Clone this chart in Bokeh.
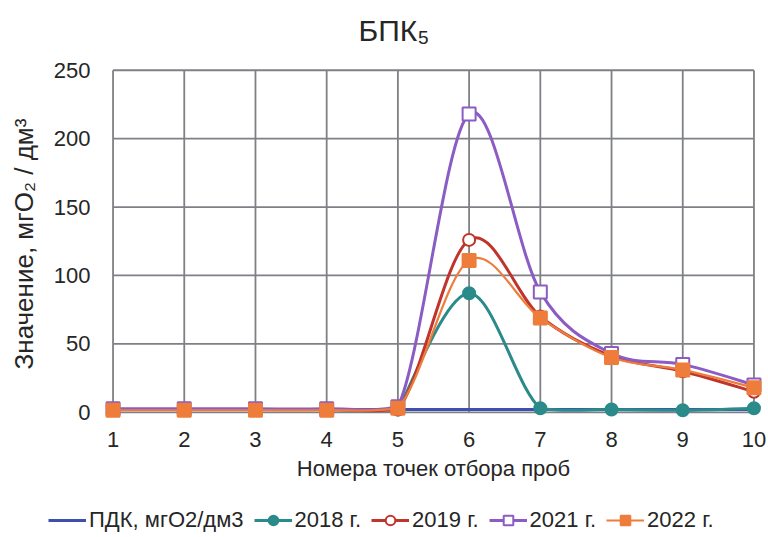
import numpy as np
from bokeh.plotting import figure
from bokeh.layouts import column
from bokeh.models import Range1d, FixedTicker, Legend, LegendItem, ColumnDataSource, Label
from bokeh.embed import file_html
from bokeh.resources import INLINE

# ---- data ----
points = [1, 2, 3, 4, 5, 6, 7, 8, 9, 10]
pdk = [2, 2, 2, 2, 2, 2, 2, 2, 2, 2]
y2018 = [None, None, None, None, 2, 87, 3, 2, 1.5, 3]
y2019 = [2, 2, 2, 2, 2, 126, 70, 41, 30, 15]
y2021 = [2.5, 2.5, 2.5, 2.5, 4, 218, 88, 43, 35, 20]
y2022 = [1.5, 1.5, 1.5, 1.5, 3, 111, 69, 40, 31, 18]
y_ticks = [0, 50, 100, 150, 200, 250]

title_text = "БПК₅"
y_label = "Значение, мгО₂ / дм³"
x_label = "Номера точек отбора проб"
names = ["ПДК, мгО2/дм3", "2018 г.", "2019 г.", "2021 г.", "2022 г."]

# ---- styles ----
FONT = "Liberation Sans"
TXT = "#262626"
GRID = "#7e8085"
C_PDK = "#3f4fb0"
C18 = "#2b8a8a"
C19 = "#c0352b"
C21 = "#8b5cc4"
C22 = "#ee7d3b"


def smooth_segments(xs, ys, floor=0.0):
    """Bezier control points (Catmull-Rom style, like a spreadsheet 'smoothed line')."""
    xs = np.array(xs, float)
    ys = np.array([np.nan if v is None else v for v in ys], float)
    n = len(xs)
    d = dict(x0=[], y0=[], x1=[], y1=[], cx0=[], cy0=[], cx1=[], cy1=[])
    for i in range(n - 1):
        if np.isnan(ys[i]) or np.isnan(ys[i + 1]):
            continue
        ip = i - 1 if i - 1 >= 0 and not np.isnan(ys[i - 1]) else i
        nn = i + 2 if i + 2 < n and not np.isnan(ys[i + 2]) else i + 1
        d["x0"].append(xs[i]); d["y0"].append(ys[i])
        d["x1"].append(xs[i + 1]); d["y1"].append(ys[i + 1])
        d["cx0"].append(xs[i] + (xs[i + 1] - xs[ip]) / 6)
        d["cy0"].append(max(ys[i] + (ys[i + 1] - ys[ip]) / 6, floor))
        d["cx1"].append(xs[i + 1] - (xs[nn] - xs[i]) / 6)
        d["cy1"].append(max(ys[i + 1] - (ys[nn] - ys[i]) / 6, floor))
    return ColumnDataSource(d)


def strip(height):
    f = figure(
        width=768, height=height, x_range=Range1d(0, 1), y_range=Range1d(0, 1),
        min_border_left=0, min_border_right=0, min_border_top=0, min_border_bottom=0,
        x_axis_location=None, y_axis_location=None, title=None,
        output_backend="svg", toolbar_location=None,
        background_fill_color="white", border_fill_color="white",
    )
    f.frame_align = False
    f.grid.visible = False
    f.outline_line_color = None
    return f


# ---- title strip ----
tf = strip(52)
tf.add_layout(Label(x=358, y=22, x_units="screen", y_units="screen", text=title_text,
                    text_font=FONT, text_font_size="30px", text_color=TXT,
                    text_align="left", text_baseline="alphabetic"))

# ---- main chart ----
p = figure(
    width=768, height=445, title=None,
    min_border_left=104, min_border_right=6, min_border_top=15, min_border_bottom=77,
    x_range=Range1d(0.88, 10.12), y_range=Range1d(-6, 252),
    output_backend="svg", toolbar_location=None,
    background_fill_color="white", border_fill_color="white",
)
p.frame_align = False
p.outline_line_color = None
p.xgrid.visible = False
p.ygrid.visible = False

for ax in (p.xaxis, p.yaxis):
    ax.axis_line_color = None
    ax.major_tick_line_color = None
    ax.minor_tick_line_color = None
    ax.major_label_text_font = FONT
    ax.major_label_text_font_size = "22px"
    ax.major_label_text_color = TXT
    ax.axis_label_text_font = FONT
    ax.axis_label_text_font_size = "22px"
    ax.axis_label_text_font_style = "normal"
    ax.axis_label_text_color = TXT
p.yaxis.axis_label_text_font_size = "26px"
p.xaxis.ticker = FixedTicker(ticks=points)
p.yaxis.ticker = FixedTicker(ticks=y_ticks)
p.xaxis.axis_label = x_label
p.yaxis.axis_label = y_label
p.xaxis.major_label_standoff = 5
p.xaxis.axis_label_standoff = 6
p.yaxis.major_label_standoff = 8
p.yaxis.axis_label_standoff = 12

# grid drawn from tick values (only inside the data area)
p.segment(x0=points, y0=[y_ticks[0]] * len(points), x1=points, y1=[y_ticks[-1]] * len(points),
          line_color=GRID, line_width=1.8)
p.segment(x0=[points[0]] * len(y_ticks), y0=y_ticks, x1=[points[-1]] * len(y_ticks), y1=y_ticks,
          line_color=GRID, line_width=1.8)

# series
p.line(points, pdk, line_color=C_PDK, line_width=3)

specs = [
    (y2018, C18, "circle", 12, C18, 3),
    (y2019, C19, "circle", 12, "white", 3),
    (y2021, C21, "square", 13, "white", 3),
    (y2022, C22, "square", 13, C22, 2.2),
]
for ys, col, mk, sz, fill, lw in specs:
    src = smooth_segments(points, ys)
    p.bezier(x0="x0", y0="y0", x1="x1", y1="y1", cx0="cx0", cy0="cy0", cx1="cx1", cy1="cy1",
             source=src, line_color=col, line_width=lw, line_cap="round")
    xs_m = [x for x, v in zip(points, ys) if v is not None]
    ys_m = [v for v in ys if v is not None]
    p.scatter(xs_m, ys_m, marker=mk, size=sz, fill_color=fill, line_color=col, line_width=2)

# ---- legend strip (keys only, renderers hold no drawable data) ----
lg = strip(40)
nan = [float("nan")]
items = [LegendItem(label=names[0], renderers=[lg.line(x=nan, y=nan, line_color=C_PDK, line_width=3)])]
for (ys, col, mk, sz, fill, lw), nm in zip(specs, names[1:]):
    rl = lg.line(x=nan, y=nan, line_color=col, line_width=lw)
    rm = lg.scatter(x=nan, y=nan, marker=mk, fill_color=fill, line_color=col, line_width=2)
    items.append(LegendItem(label=nm, renderers=[rl, rm]))

legend = Legend(
    items=items, orientation="horizontal", location=(48, 4),
    glyph_width=38, glyph_height=24, label_standoff=3, spacing=10,
    padding=0, margin=0, border_line_color=None, background_fill_alpha=0,
    label_text_font=FONT, label_text_font_size="22px", label_text_color=TXT,
)
lg.add_layout(legend)

layout = column(tf, p, lg, spacing=0)
open("out.html", "w").write(file_html(layout, INLINE))
